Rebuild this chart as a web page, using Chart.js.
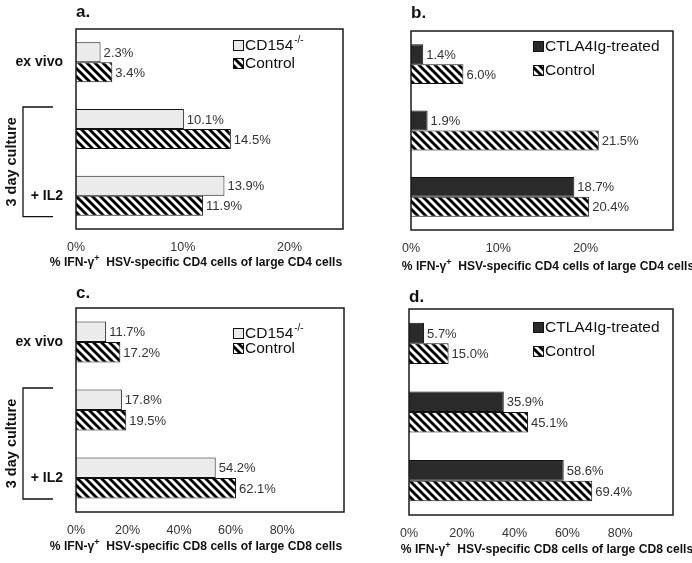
<!DOCTYPE html>
<html lang="en">
<head>
    <meta charset="UTF-8">
    <title>IFN-gamma HSV-specific cells</title>
    <style>
        body {
            margin: 0;
            padding: 0;
            background-color: #fff;
        }
        #wrap {
            position: relative;
            width: 692px;
            height: 563px;
        }
        canvas {
            position: absolute;
        }
    </style>
    <script src="https://cdn.jsdelivr.net/npm/chart.js"></script>
</head>
<body>
    <div id="wrap">
        <canvas id="chart-a" width="346" height="281" style="left:0;top:0"></canvas>
        <canvas id="chart-b" width="346" height="281" style="left:346px;top:0"></canvas>
        <canvas id="chart-c" width="346" height="282" style="left:0;top:281px"></canvas>
        <canvas id="chart-d" width="346" height="282" style="left:346px;top:281px"></canvas>
    </div>
    <script>
        // data
        const categories = ['ex vivo', '', '+ IL2'];
        const cd4Cd154 = [2.3, 10.1, 13.9];
        const cd4Cd154Control = [3.4, 14.5, 11.9];
        const cd4Ctla = [1.4, 1.9, 18.7];
        const cd4CtlaControl = [6.0, 21.5, 20.4];
        const cd8Cd154 = [11.7, 17.8, 54.2];
        const cd8Cd154Control = [17.2, 19.5, 62.1];
        const cd8Ctla = [5.7, 35.9, 58.6];
        const cd8CtlaControl = [15.0, 45.1, 69.4];
        const cd4Ticks = [0, 10, 20];
        const cd8Ticks = [0, 20, 40, 60, 80];

        const FONT = '"Liberation Sans", Arial, sans-serif';
        Chart.defaults.font.family = FONT;

        // diagonal black/white hatch for the control bars
        const makeHatch = () => {
            const c = document.createElement('canvas');
            c.width = 8;
            c.height = 8;
            const g = c.getContext('2d');
            g.fillStyle = '#fff';
            g.fillRect(0, 0, 8, 8);
            g.strokeStyle = '#000';
            g.lineWidth = 2.9;
            for (const k of [-8, 0, 8]) {
                g.beginPath();
                g.moveTo(k - 1, -1);
                g.lineTo(k + 9, 9);
                g.stroke();
            }
            return c;
        };
        const hatchCanvas = makeHatch();

        const decor = {
            id: 'decor',
            afterDatasetsDraw(chart, args, o) {
                const ctx = chart.ctx;
                const a = chart.chartArea;
                ctx.save();

                // data labels
                ctx.font = '13px ' + FONT;
                ctx.fillStyle = '#333';
                ctx.textBaseline = 'middle';
                ctx.textAlign = 'left';
                chart.data.datasets.forEach((ds, i) => {
                    chart.getDatasetMeta(i).data.forEach((bar, j) => {
                        ctx.fillText(ds.data[j].toFixed(1) + '%', bar.x + 3, bar.y + 1);
                    });
                });

                // plot frame
                ctx.strokeStyle = '#1a1a1a';
                ctx.lineWidth = 1.5;
                ctx.strokeRect(a.left, a.top, a.right - a.left, a.bottom - a.top);

                // panel letter
                ctx.font = 'bold 17px ' + FONT;
                ctx.fillStyle = '#111';
                ctx.fillText(o.panel, a.left, o.panelY);

                // legend
                chart.data.datasets.forEach((ds, i) => {
                    const y = o.legendY + i * o.legendGap;
                    ctx.fillStyle = ds.backgroundColor;
                    ctx.fillRect(o.legendX, y - 5, 10, 10);
                    ctx.strokeStyle = '#111';
                    ctx.lineWidth = 1;
                    ctx.strokeRect(o.legendX + 0.5, y - 4.5, 10, 10);
                    ctx.fillStyle = '#111';
                    ctx.font = '15.5px ' + FONT;
                    ctx.textAlign = 'left';
                    ctx.fillText(ds.label, o.legendX + 12, y + 1);
                    if (ds.sup) {
                        const w = ctx.measureText(ds.label).width;
                        ctx.font = '10px ' + FONT;
                        ctx.fillText(ds.sup, o.legendX + 13 + w, y - 5);
                    }
                });

                // x axis title with superscript
                const parts = [
                    ['% IFN-\u03b3', 'bold 12.1px ' + FONT, 0],
                    ['+', 'bold 9px ' + FONT, -4],
                    ['  ' + o.xTitle, 'bold 12.1px ' + FONT, 0]
                ];
                let total = 0;
                parts.forEach(p => { ctx.font = p[1]; total += ctx.measureText(p[0]).width; });
                let x = o.xTitleX - total / 2;
                ctx.fillStyle = '#111';
                parts.forEach(p => {
                    ctx.font = p[1];
                    ctx.fillText(p[0], x, o.xTitleY + p[2]);
                    x += ctx.measureText(p[0]).width;
                });

                // bracket for the cultured groups
                if (o.bracket) {
                    const ys = chart.scales.y;
                    const top = ys.getPixelForValue(1) - 22;
                    const bot = ys.getPixelForValue(2) + 21;
                    ctx.strokeStyle = '#111';
                    ctx.lineWidth = 1.3;
                    ctx.beginPath();
                    ctx.moveTo(53, top);
                    ctx.lineTo(23, top);
                    ctx.lineTo(23, bot);
                    ctx.lineTo(53, bot);
                    ctx.stroke();
                    ctx.translate(12, (top + bot) / 2);
                    ctx.rotate(-Math.PI / 2);
                    ctx.font = 'bold 14.5px ' + FONT;
                    ctx.textAlign = 'center';
                    ctx.fillText('3 day culture', 0, 0);
                }
                ctx.restore();
            }
        };

        const makePanel = (id, cfg) => {
            const canvas = document.getElementById(id);
            const ctx = canvas.getContext('2d');
            const hatch = ctx.createPattern(hatchCanvas, 'repeat');
            new Chart(ctx, {
                type: 'bar',
                data: {
                    labels: categories,
                    datasets: [
                        {
                            label: cfg.seriesName,
                            sup: cfg.sup,
                            data: cfg.values,
                            backgroundColor: cfg.color,
                            borderColor: '#111',
                            borderWidth: 1,
                            borderSkipped: 'start'
                        },
                        {
                            label: 'Control',
                            data: cfg.control,
                            backgroundColor: hatch,
                            borderColor: '#111',
                            borderWidth: 1,
                            borderSkipped: 'start'
                        }
                    ]
                },
                options: {
                    indexAxis: 'y',
                    responsive: false,
                    animation: false,
                    devicePixelRatio: 1,
                    categoryPercentage: 0.6,
                    barPercentage: 1.0,
                    layout: {
                        padding: { top: cfg.area[1], right: canvas.width - cfg.area[2], bottom: 0, left: 0 }
                    },
                    scales: {
                        x: {
                            min: 0,
                            max: cfg.max,
                            afterBuildTicks: s => { s.ticks = cfg.ticks.map(v => ({ value: v })); },
                            afterFit: s => { s.height = canvas.height - cfg.area[3]; },
                            grid: { display: false, drawTicks: false },
                            border: { display: false },
                            ticks: {
                                padding: 11,
                                color: '#333',
                                font: { size: 12.5 },
                                maxRotation: 0,
                                callback: v => v + '%'
                            }
                        },
                        y: {
                            afterFit: s => { s.width = cfg.area[0]; },
                            grid: { display: false, drawTicks: false },
                            border: { display: false },
                            ticks: {
                                display: cfg.bracket,
                                padding: 13,
                                color: '#111',
                                font: { size: 14, weight: 'bold' }
                            }
                        }
                    },
                    plugins: {
                        legend: { display: false },
                        tooltip: { enabled: false },
                        decor: {
                            panel: cfg.panel,
                            panelY: cfg.panelY,
                            legendX: cfg.legendX,
                            legendY: cfg.legendY,
                            legendGap: cfg.legendGap,
                            xTitle: cfg.xTitle,
                            xTitleX: cfg.xTitleX,
                            xTitleY: cfg.xTitleY,
                            bracket: cfg.bracket
                        }
                    }
                },
                plugins: [decor]
            });
        };

        const cd4Title = 'HSV-specific CD4 cells of large CD4 cells';
        const cd8Title = 'HSV-specific CD8 cells of large CD8 cells';

        document.addEventListener('DOMContentLoaded', () => {
            makePanel('chart-a', {
                panel: 'a.', panelY: 12, seriesName: 'CD154', sup: '-/-', color: '#ebebeb',
                values: cd4Cd154, control: cd4Cd154Control, max: 25, ticks: cd4Ticks,
                area: [76, 29, 343, 229], legendX: 233, legendY: 45, legendGap: 18,
                xTitle: cd4Title, xTitleX: 196, xTitleY: 263, bracket: true
            });
            makePanel('chart-b', {
                panel: 'b.', panelY: 13, seriesName: 'CTLA4Ig-treated', sup: '', color: '#2b2b2b',
                values: cd4Ctla, control: cd4CtlaControl, max: 30, ticks: cd4Ticks,
                area: [65, 31, 327, 230], legendX: 187, legendY: 46, legendGap: 24,
                xTitle: cd4Title, xTitleX: 202, xTitleY: 267, bracket: false
            });
            makePanel('chart-c', {
                panel: 'c.', panelY: 12, seriesName: 'CD154', sup: '-/-', color: '#ebebeb',
                values: cd8Cd154, control: cd8Cd154Control, max: 104, ticks: cd8Ticks,
                area: [76, 27, 344, 231], legendX: 233, legendY: 52, legendGap: 15,
                xTitle: cd8Title, xTitleX: 196, xTitleY: 266, bracket: true
            });
            makePanel('chart-d', {
                panel: 'd.', panelY: 16, seriesName: 'CTLA4Ig-treated', sup: '', color: '#2b2b2b',
                values: cd8Ctla, control: cd8CtlaControl, max: 100, ticks: cd8Ticks,
                area: [63, 28, 327, 234], legendX: 187, legendY: 46, legendGap: 24,
                xTitle: cd8Title, xTitleX: 201, xTitleY: 269, bracket: false
            });
        });
    </script>
</body>
</html>
